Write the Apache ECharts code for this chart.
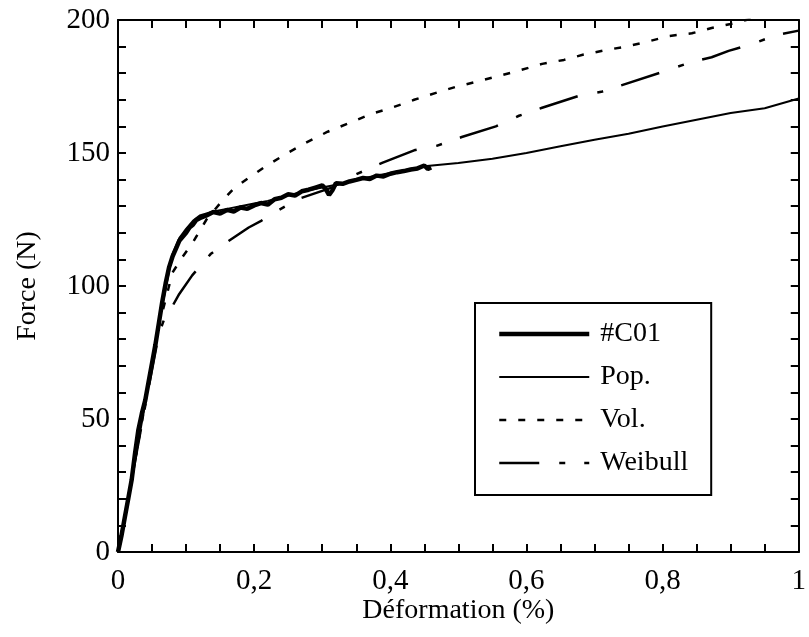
<!DOCTYPE html>
<html>
<head>
<meta charset="utf-8">
<script src="https://cdn.jsdelivr.net/npm/echarts@6/dist/echarts.min.js"></script>
<style>
  html, body { margin: 0; padding: 0; background: #fff; }
  #chart { width: 809px; height: 637px; }
</style>
</head>
<body>
<div id="chart"></div>
<script>
// Courbes force / déformation
const seriesNames = ['#C01', 'Pop.', 'Vol.', 'Weibull'];
const xTicks = [0, 0.2, 0.4, 0.6, 0.8, 1];
const yTicks = [0, 50, 100, 150, 200];

const c01Def = [0, 0.005, 0.01, 0.015, 0.02, 0.025, 0.03, 0.035, 0.04, 0.045, 0.05, 0.055, 0.06, 0.065, 0.07, 0.075, 0.08, 0.085, 0.09, 0.095, 0.1, 0.105, 0.11, 0.115, 0.12, 0.13, 0.14, 0.15, 0.16, 0.17, 0.18, 0.19, 0.2, 0.21, 0.22, 0.23, 0.24, 0.25, 0.26, 0.27, 0.28, 0.29, 0.3, 0.305, 0.31, 0.315, 0.32, 0.33, 0.34, 0.35, 0.36, 0.37, 0.38, 0.39, 0.4, 0.41, 0.42, 0.43, 0.44, 0.45, 0.455, 0.46];
const c01Force = [0, 6, 13, 20, 27, 37, 46, 52, 57, 64, 71, 78, 86, 94, 101, 107, 111, 114, 117, 118.5, 120, 122, 123, 124.8, 125.5, 126.5, 127.8, 127.2, 128.6, 128.0, 129.5, 129.0, 130.3, 131.2, 130.6, 132.6, 133.2, 134.5, 134.0, 135.6, 136.2, 137.0, 137.8, 136.5, 134.2, 136.0, 138.6, 138.4, 139.3, 139.9, 140.6, 140.2, 141.5, 141.2, 142.2, 142.8, 143.2, 143.8, 144.2, 145.3, 144.0, 144.6];

const popDef = [0, 0.02, 0.04, 0.06, 0.08, 0.09, 0.1, 0.11, 0.12, 0.14, 0.16, 0.18, 0.2, 0.22, 0.25, 0.28, 0.3, 0.33, 0.36, 0.4, 0.45, 0.5, 0.55, 0.6, 0.65, 0.7, 0.75, 0.8, 0.85, 0.9, 0.95, 1.0];
const popForce = [0, 27, 56, 86, 112, 118, 121.5, 124.5, 126.5, 128, 129, 130, 131, 132, 134, 136, 137, 138.5, 140.5, 142.5, 145, 146.2, 147.8, 150, 152.5, 155, 157.2, 160, 162.5, 165, 166.8, 170.5];

const volDef = [0, 0.02, 0.04, 0.06, 0.08, 0.094, 0.109, 0.13, 0.153, 0.17, 0.192, 0.217, 0.247, 0.277, 0.308, 0.34, 0.372, 0.402, 0.435, 0.467, 0.498, 0.53, 0.56, 0.589, 0.623, 0.655, 0.684, 0.717, 0.746, 0.78, 0.81, 0.843, 0.872, 0.9, 0.93, 0.96, 1.0];
const volForce = [0, 27, 56, 85, 105, 110.7, 116, 125, 132, 136.6, 140.7, 145, 149.7, 154, 158, 161.3, 164.7, 167, 170, 172.6, 175, 177, 179, 181, 183.5, 185, 187, 188.7, 190, 192, 194, 195, 197, 198.5, 200.5, 202, 204];

const weiDef = [0, 0.02, 0.04, 0.06, 0.07, 0.079, 0.09, 0.109, 0.136, 0.163, 0.192, 0.211, 0.232, 0.266, 0.314, 0.35, 0.388, 0.435, 0.468, 0.505, 0.555, 0.589, 0.623, 0.677, 0.71, 0.746, 0.8, 0.84, 0.872, 0.897, 0.927, 0.968, 1.0];
const weiForce = [0, 27, 55, 82, 89, 92, 97, 104, 112, 117, 122, 124.6, 128, 132.8, 137, 142, 146.3, 151, 152.7, 156, 160, 164, 167, 171.5, 173, 176, 180.5, 184, 186, 188.4, 190.6, 194.4, 196];

const pairs = (xs, ys) => xs.map((x, i) => [x, ys[i]]);

const FONT = 'Liberation Serif';
const myChart = echarts.init(document.getElementById('chart'));

const tickCommon = {
    axisLine: {onZero: false, lineStyle: {color: '#000', width: 2}},
    axisTick: {inside: true, length: 8, lineStyle: {color: '#000', width: 2}},
    minorTick: {show: true, length: 8, lineStyle: {color: '#000', width: 2}},
    splitLine: {show: false}
};

const fmt = v => String(+v.toFixed(2)).replace('.', ',');

let option = {
    animation: false,
    backgroundColor: '#fff',
    textStyle: {fontFamily: FONT, color: '#000'},
    grid: {left: 118, right: 10, top: 20, bottom: 85},
    legend: {
        data: seriesNames,
        orient: 'vertical',
        left: 475,
        top: 303,
        padding: [17, 23, 18, 22],
        itemGap: 15,
        itemWidth: 90,
        itemHeight: 14,
        selectedMode: false,
        borderColor: '#000',
        borderWidth: 2,
        itemStyle: {opacity: 0},
        lineStyle: {width: 'inherit'},
        textStyle: {fontFamily: FONT, fontSize: 28, color: '#000', padding: [0, 0, 0, 6]}
    },
    xAxis: [
        Object.assign({
            type: 'value', min: 0, max: 1, interval: 0.2, position: 'bottom',
            axisLabel: {formatter: fmt, fontSize: 29, fontFamily: FONT, color: '#000', margin: 15},
            name: 'Déformation (%)', nameLocation: 'middle', nameGap: 45, nameMoveOverlap: false,
            nameTextStyle: {fontSize: 28, fontFamily: FONT, color: '#000'}
        }, tickCommon, {minorTick: Object.assign({}, tickCommon.minorTick, {splitNumber: 4})}),
        Object.assign({
            type: 'value', min: 0, max: 1, interval: 0.2, position: 'top',
            axisLabel: {show: false}
        }, tickCommon, {minorTick: Object.assign({}, tickCommon.minorTick, {splitNumber: 4})})
    ],
    yAxis: [
        Object.assign({
            type: 'value', min: 0, max: 200, interval: 50, position: 'left',
            axisLabel: {fontSize: 29, fontFamily: FONT, color: '#000', margin: 8},
            name: 'Force (N)', nameLocation: 'middle', nameGap: 76, nameRotate: 90, nameMoveOverlap: false,
            nameTextStyle: {fontSize: 28, fontFamily: FONT, color: '#000'}
        }, tickCommon, {minorTick: Object.assign({}, tickCommon.minorTick, {splitNumber: 5})}),
        Object.assign({
            type: 'value', min: 0, max: 200, interval: 50, position: 'right',
            axisLabel: {show: false}
        }, tickCommon, {minorTick: Object.assign({}, tickCommon.minorTick, {splitNumber: 5})})
    ],
    series: [
        {
            name: '#C01', type: 'line', symbol: 'none', z: 5,
            data: pairs(c01Def, c01Force),
            lineStyle: {color: '#000', width: 4.5},
            itemStyle: {color: '#000'}
        },
        {
            name: 'Pop.', type: 'line', symbol: 'none', z: 4,
            data: pairs(popDef, popForce),
            lineStyle: {color: '#000', width: 2},
            itemStyle: {color: '#000'}
        },
        {
            name: 'Vol.', type: 'line', symbol: 'none', z: 3,
            data: pairs(volDef, volForce),
            lineStyle: {color: '#000', width: 2.5, type: [7, 12]},
            itemStyle: {color: '#000'}
        },
        {
            name: 'Weibull', type: 'line', symbol: 'none', z: 3,
            data: pairs(weiDef, weiForce),
            lineStyle: {color: '#000', width: 2.5, type: [40, 20, 6, 19]},
            itemStyle: {color: '#000'}
        }
    ]
};

myChart.setOption(option);
</script>
</body>
</html>
